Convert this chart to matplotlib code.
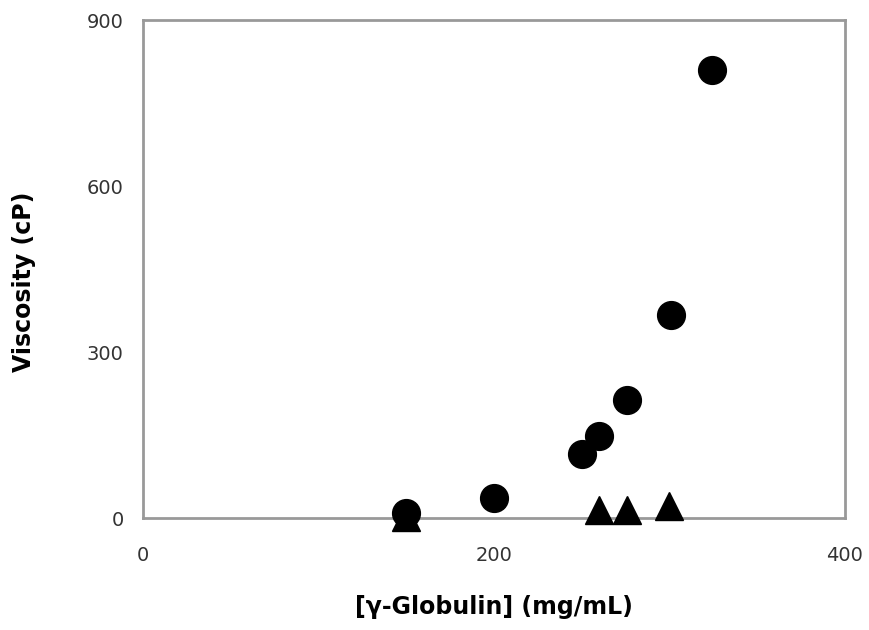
import matplotlib
matplotlib.use("Agg")
import matplotlib.pyplot as plt

# данные
conc_circ = [150, 200, 250, 260, 276, 301, 324]
visc_circ = [9, 36, 116, 148, 213, 367, 810]
conc_tri = [150, 260, 276, 300]
visc_tri = [1, 14, 14, 22]

xticks = [0, 200, 400]
yticks = [0, 300, 600, 900]

fig = plt.figure(figsize=(8.7, 6.3), dpi=100)
ax = fig.add_axes([143/870, 1 - 518/630, (845 - 143)/870, (518 - 20)/630])

ax.plot(conc_circ, visc_circ, 'o', color='black', markersize=20, clip_on=False, zorder=3)
ax.plot(conc_tri, visc_tri, '^', color='black', markersize=20, clip_on=False, zorder=3)

ax.set_xlim(0, 400)
ax.set_ylim(0, 900)
ax.set_xticks(xticks)
ax.set_yticks(yticks)
ax.tick_params(length=0, labelsize=14, colors='#333333')
ax.tick_params(axis='x', pad=20)
ax.tick_params(axis='y', pad=14)
for s in ax.spines.values():
    s.set_color('#999999')
    s.set_linewidth(2)

ax.set_xlabel('[γ-Globulin] (mg/mL)', fontsize=17, fontweight='bold')
ax.set_ylabel('Viscosity (cP)', fontsize=17, fontweight='bold')
ax.xaxis.set_label_coords(0.5, -(595 - 518) / 498)
ax.yaxis.set_label_coords(-(143 - 36) / 702, (518 - 282) / 498)

fig.savefig('out.png', dpi=100)
